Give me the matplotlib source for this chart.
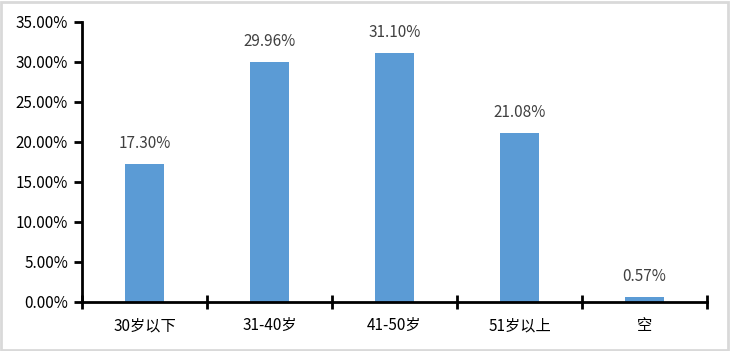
import matplotlib
matplotlib.use("Agg")
import matplotlib.pyplot as plt
from matplotlib.patches import Rectangle

plt.rcParams['font.family'] = ['Noto Sans CJK SC', 'DejaVu Sans']

categories = ["30岁以下", "31-40岁", "41-50岁", "51岁以上", "空"]
values = [17.30, 29.96, 31.10, 21.08, 0.57]
yticks = [0, 5, 10, 15, 20, 25, 30, 35]

fig = plt.figure(figsize=(7.31, 3.51), dpi=100)
ax = fig.add_axes([82/731, 1-302/351, (707-82)/731, (302-22)/351])

x = list(range(len(categories)))
ax.bar(x, values, width=0.31, color="#5B9BD5", zorder=2)
for xi, v in zip(x, values):
    ax.text(xi, v + 1.5, f"{v:.2f}%", ha="center", va="bottom", fontsize=11, color="#404040")

ax.set_xlim(-0.5, len(categories) - 0.5)
ax.set_ylim(0, 35)
ax.set_yticks(yticks)
ax.set_yticklabels([f"{t:.2f}%" for t in yticks], fontsize=11)
ax.set_xticks(x)
ax.set_xticklabels(categories, fontsize=11)
ax.tick_params(axis='x', length=0, pad=11)
ax.set_xticks([i - 0.5 for i in range(len(categories) + 1)], minor=True)
ax.tick_params(axis='x', which='minor', direction='inout', length=10, width=2)
ax.tick_params(axis='y', direction='out', length=6, width=2, pad=4)
for s in ['top', 'right']:
    ax.spines[s].set_visible(False)
for s in ['left', 'bottom']:
    ax.spines[s].set_linewidth(2)

fig.patches.append(Rectangle((0.002, 0.003), 0.994, 0.992, transform=fig.transFigure,
                             fill=False, edgecolor="#D9D9D9", linewidth=2))
fig.savefig("out.png", dpi=100)
